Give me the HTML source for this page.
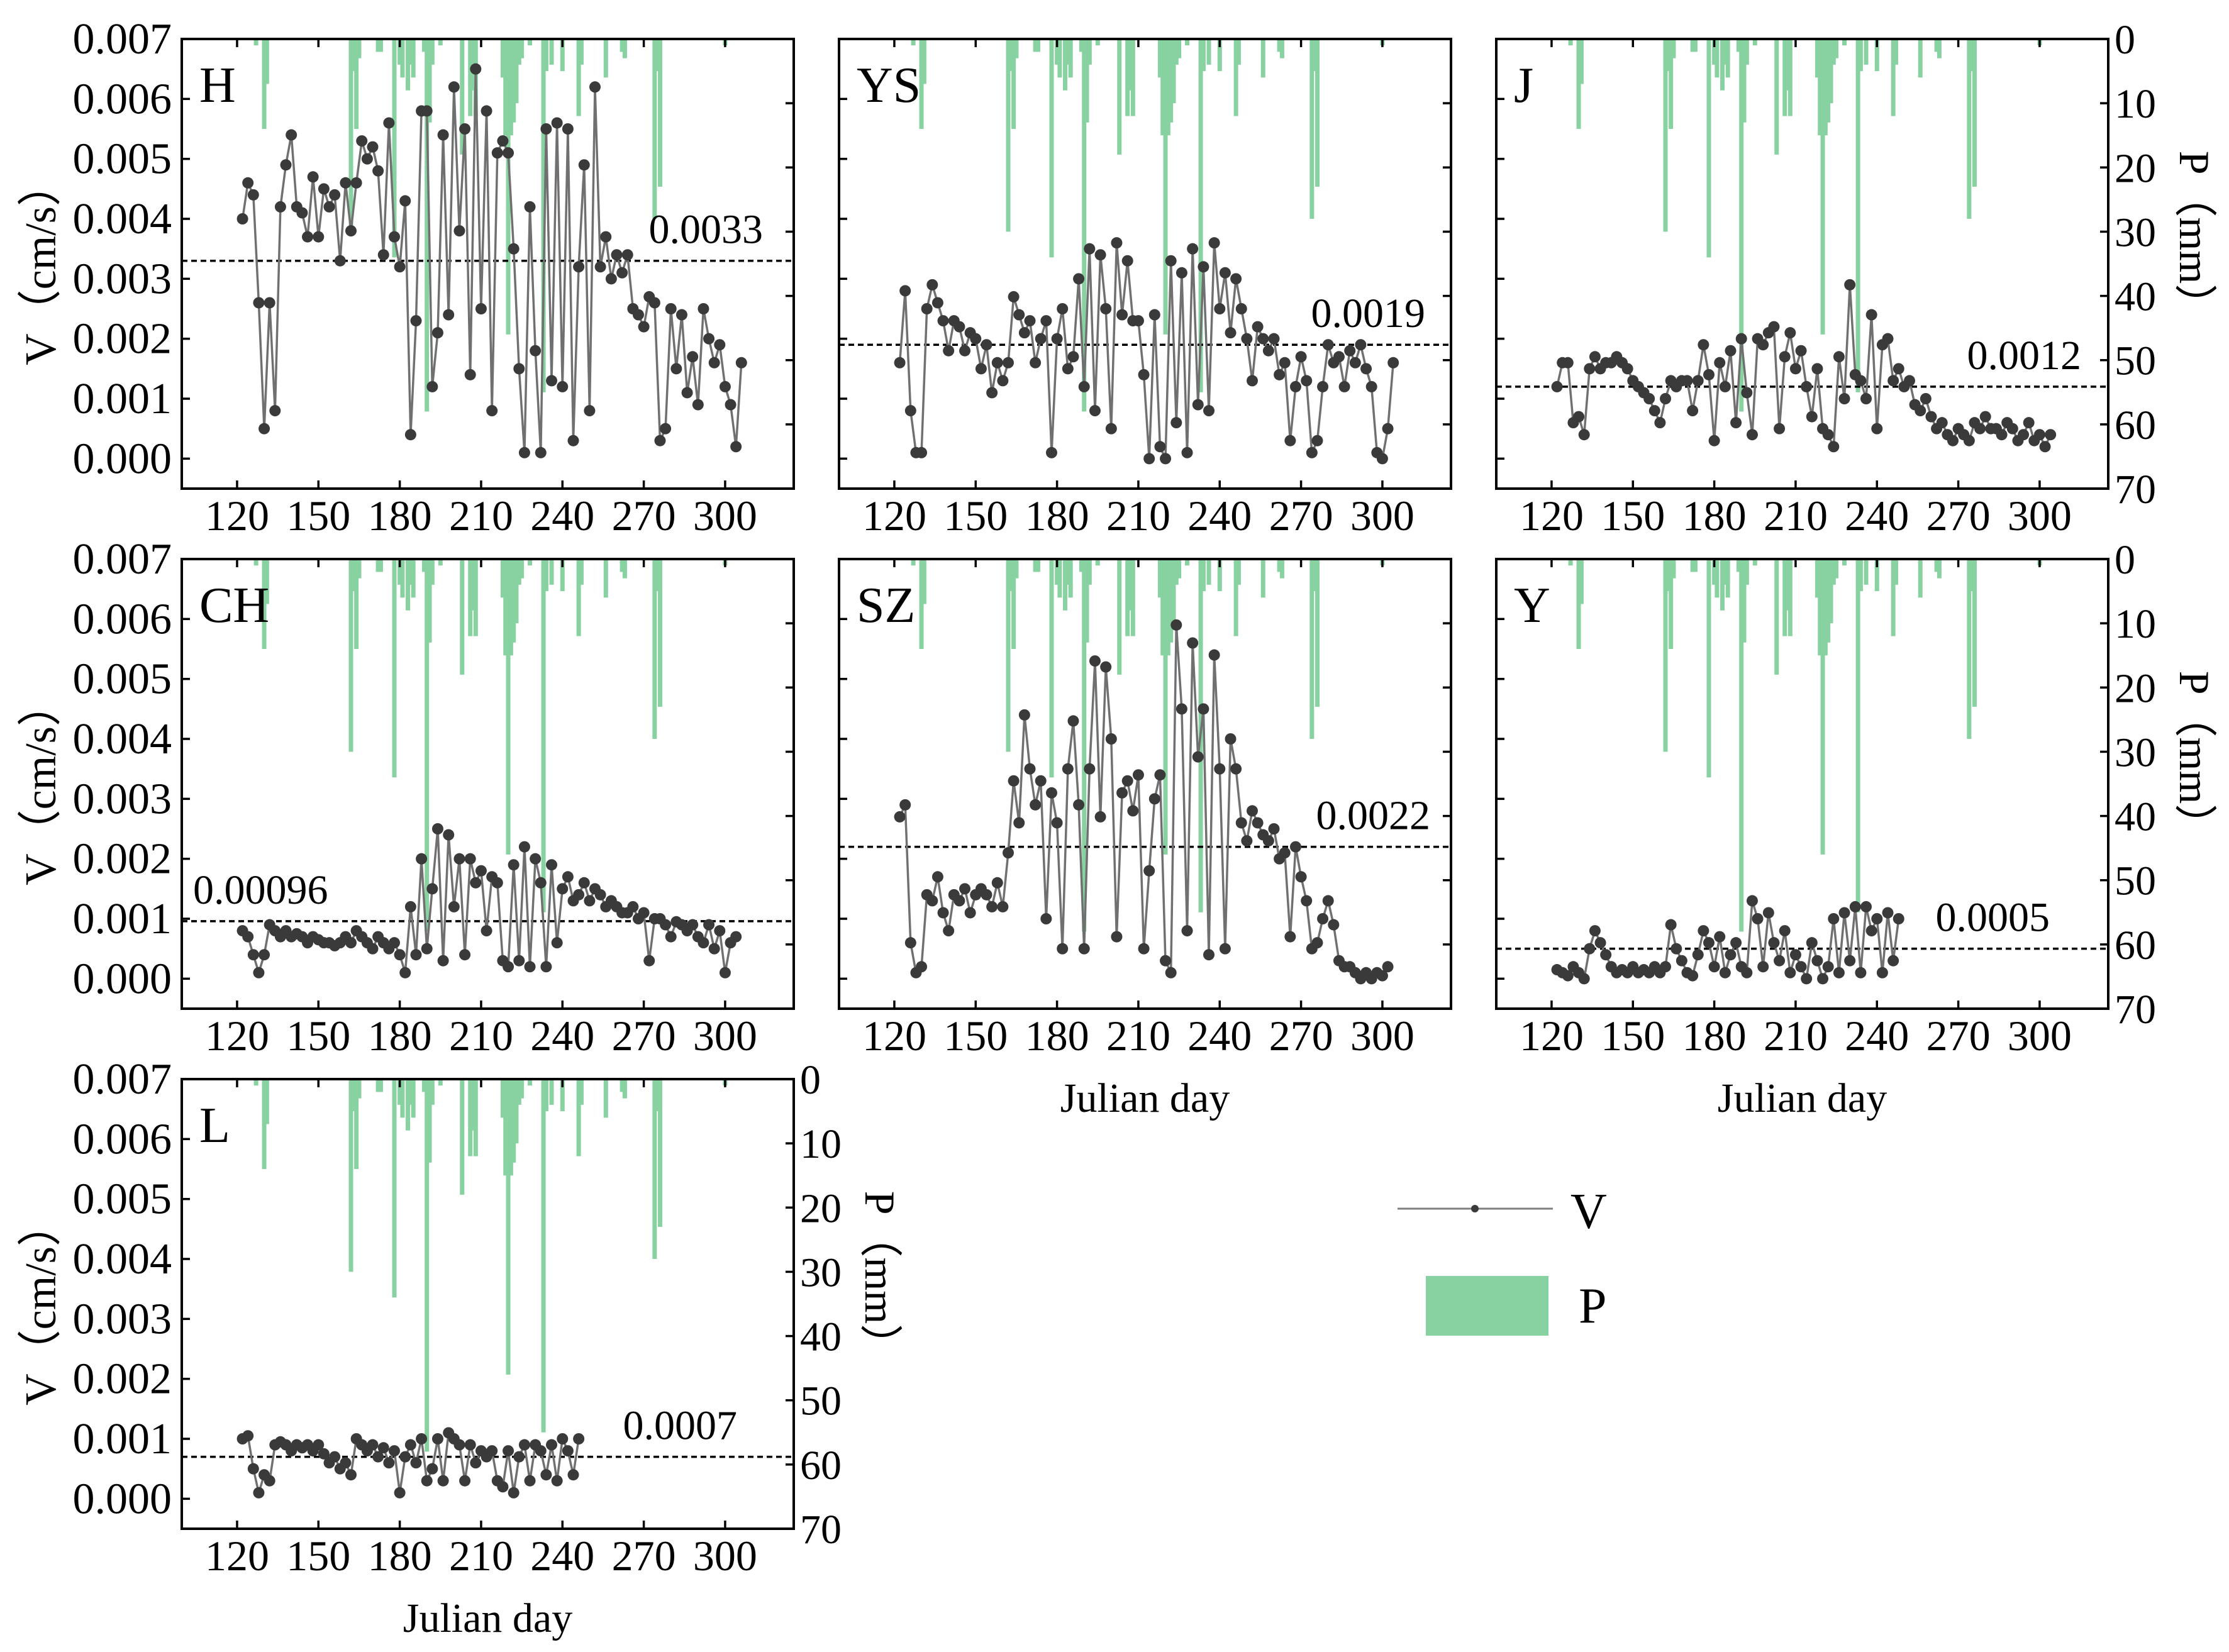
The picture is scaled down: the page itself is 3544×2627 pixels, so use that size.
<!DOCTYPE html>
<html><head><meta charset="utf-8">
<style>
html,body{margin:0;padding:0;background:#fff;}
svg{display:block;font-family:"Liberation Serif",serif;}
</style></head>
<body>
<svg id="chart" width="3544" height="2627" viewBox="0 0 3544 2627" xmlns="http://www.w3.org/2000/svg"></svg>
<script>
// ---- data ----
const panelNames = ["H","YS","J","CH","SZ","Y","L"];
const meanValues = [0.0033,0.0019,0.0012,0.00096,0.0022,0.0005,0.0007];
const meanLabels = ["0.0033","0.0019","0.0012","0.00096","0.0022","0.0005","0.0007"];
const startDay = 122;
const dayStep = 2;
// velocities in units of 0.001 cm/s
const vH = [4.0,4.6,4.4,2.6,0.5,2.6,0.8,4.2,4.9,5.4,4.2,4.1,3.7,4.7,3.7,4.5,4.2,4.4,3.3,4.6,3.8,4.6,5.3,5.0,5.2,4.8,3.4,5.6,3.7,3.2,4.3,0.4,2.3,5.8,5.8,1.2,2.1,5.4,2.4,6.2,3.8,5.5,1.4,6.5,2.5,5.8,0.8,5.1,5.3,5.1,3.5,1.5,0.1,4.2,1.8,0.1,5.5,1.3,5.6,1.2,5.5,0.3,3.2,4.9,0.8,6.2,3.2,3.7,3.0,3.4,3.1,3.4,2.5,2.4,2.2,2.7,2.6,0.3,0.5,2.5,1.5,2.4,1.1,1.7,0.9,2.5,2.0,1.6,1.9,1.2,0.9,0.2,1.6];
const vYS = [1.6,2.8,0.8,0.1,0.1,2.5,2.9,2.6,2.3,1.8,2.3,2.2,1.8,2.1,2.0,1.5,1.9,1.1,1.6,1.3,1.6,2.7,2.4,2.1,2.3,1.6,2.0,2.3,0.1,2.0,2.5,1.5,1.7,3.0,1.2,3.5,0.8,3.4,2.5,0.5,3.6,2.4,3.3,2.3,2.3,1.4,0.0,2.4,0.2,0.0,3.3,0.6,3.1,0.1,3.5,0.9,3.2,0.8,3.6,2.5,3.1,2.1,3.0,2.5,2.0,1.3,2.2,2.0,1.8,2.0,1.4,1.6,0.3,1.2,1.7,1.3,0.1,0.3,1.2,1.9,1.6,1.7,1.2,1.8,1.6,1.9,1.5,1.2,0.1,0.0,0.5,1.6];
const vJ = [1.2,1.6,1.6,0.6,0.7,0.4,1.5,1.7,1.5,1.6,1.6,1.7,1.6,1.5,1.3,1.2,1.1,1.0,0.8,0.6,1.0,1.3,1.2,1.3,1.3,0.8,1.3,1.9,1.4,0.3,1.6,1.2,1.8,0.6,2.0,1.1,0.4,2.0,1.9,2.1,2.2,0.5,1.7,2.1,1.5,1.8,1.2,0.7,1.5,0.5,0.4,0.2,1.7,1.0,2.9,1.4,1.3,1.0,2.4,0.5,1.9,2.0,1.3,1.5,1.2,1.3,0.9,0.8,1.0,0.7,0.5,0.6,0.4,0.3,0.5,0.4,0.3,0.6,0.5,0.7,0.5,0.5,0.4,0.6,0.5,0.3,0.4,0.6,0.3,0.4,0.2,0.4];
const vCH = [0.8,0.7,0.4,0.1,0.4,0.9,0.8,0.7,0.8,0.7,0.75,0.7,0.6,0.7,0.65,0.6,0.6,0.55,0.6,0.7,0.6,0.8,0.7,0.6,0.5,0.7,0.6,0.5,0.6,0.4,0.1,1.2,0.4,2.0,0.5,1.5,2.5,0.3,2.4,1.2,2.0,0.4,2.0,1.6,1.8,0.8,1.7,1.6,0.3,0.2,1.9,0.3,2.2,0.2,2.0,1.6,0.2,1.9,0.6,1.5,1.7,1.3,1.4,1.6,1.3,1.5,1.4,1.2,1.3,1.2,1.1,1.1,1.2,1.0,1.1,0.3,1.0,1.0,0.9,0.7,0.95,0.9,0.8,0.9,0.7,0.6,0.9,0.5,0.8,0.1,0.6,0.7];
const vSZ = [2.7,2.9,0.6,0.1,0.2,1.4,1.3,1.7,1.1,0.8,1.4,1.3,1.5,1.1,1.4,1.5,1.4,1.2,1.6,1.2,2.1,3.3,2.6,4.4,3.5,2.9,3.3,1.0,3.1,2.6,0.5,3.5,4.3,2.9,0.5,3.5,5.3,2.7,5.2,4.0,0.7,3.1,3.3,2.8,3.4,0.5,1.8,3.0,3.4,0.3,0.1,5.9,4.5,0.8,5.6,3.7,4.5,0.4,5.4,3.5,0.5,4.0,3.5,2.6,2.3,2.8,2.6,2.4,2.3,2.5,2.0,2.1,0.7,2.2,1.7,1.3,0.5,0.6,1.0,1.3,0.9,0.3,0.2,0.2,0.1,0.0,0.1,0.0,0.1,0.05,0.2];
const vY = [0.15,0.1,0.05,0.2,0.1,0.0,0.5,0.8,0.6,0.4,0.2,0.1,0.15,0.1,0.2,0.1,0.15,0.1,0.2,0.1,0.2,0.9,0.5,0.3,0.1,0.05,0.4,0.8,0.6,0.2,0.7,0.1,0.4,0.6,0.2,0.1,1.3,1.0,0.2,1.1,0.6,0.3,0.8,0.1,0.4,0.2,0.0,0.6,0.3,0.0,0.2,1.0,0.1,1.1,0.3,1.2,0.1,1.2,0.8,1.0,0.1,1.1,0.3,1.0];
const vL = [1.0,1.05,0.5,0.1,0.4,0.3,0.9,0.95,0.9,0.8,0.9,0.85,0.9,0.8,0.9,0.75,0.6,0.7,0.5,0.6,0.4,1.0,0.9,0.8,0.9,0.7,0.85,0.6,0.8,0.1,0.7,0.9,0.6,1.0,0.3,0.5,1.0,0.3,1.1,1.0,0.9,0.3,0.9,0.6,0.8,0.7,0.8,0.3,0.2,0.8,0.1,0.7,0.9,0.3,0.9,0.8,0.4,0.9,0.3,1.0,0.8,0.4,1.0];
const pDays = [127,130,131,162,163,164,165,172,173,178,180,181,183,184,185,189,190,191,192,195,203,206,207,208,218,219,220,221,222,223,224,225,228,233,234,236,240,246,247,256,262,263,274,275,276,300];
const pVals = [1,14,7,30,5,14,3,2,2,34,4,6,8,4,6,2,58,13,4,1,18,12,8,12,6,15,46,15,13,10,4,3,1,55,5,4,5,12,4,6,2,3,28,5,23,1];
const xTicks = [120,150,180,210,240,270,300];
const vTicks = ["0.000","0.001","0.002","0.003","0.004","0.005","0.006","0.007"];
const pTicks = [0,10,20,30,40,50,60,70];

const series = [vH,vYS,vJ,vCH,vSZ,vY,vL];
// ---- layout ----
const NS = "http://www.w3.org/2000/svg";
const svg = document.getElementById('chart');
const colX = [289,1334,2379], rowY = [62,889,1716];
const PW = 973, PH = 715;
const xMin = 99.6, xMax = 325.3, vMin = -0.5, vMax = 7, pMax = 70;
function el(tag, attrs, parent){const e=document.createElementNS(NS,tag);for(const k in attrs)e.setAttribute(k,attrs[k]);(parent||svg).appendChild(e);return e;}
const labelRight = [49,41,43,null,33,93,90];

panelNames.forEach((name,i)=>{
  const col = i<3 ? i : (i<6 ? i-3 : 0);
  const row = i<3 ? 0 : (i<6 ? 1 : 2);
  const X0 = colX[col], Y0 = rowY[row];
  const sx = d => X0 + (d-xMin)/(xMax-xMin)*PW;
  const sv = v => Y0 + PH - (v-vMin)/(vMax-vMin)*PH;
  const sp = p => Y0 + p/pMax*PH;
  const g = el('g',{});
  
  
  const clipId='clip'+i;
  const cp=el('clipPath',{id:clipId},g); el('rect',{x:X0,y:Y0,width:PW,height:PH},cp);
  const pg = el('g',{'clip-path':'url(#'+clipId+')'},g);
  
  
  pDays.forEach((d,k)=>{
    const b = el('rect',{x:sx(d)-3.5,y:Y0,width:7,height:sp(pVals[k])-Y0,fill:'#88d1a0'},pg);
    
    
  });
  const ml = el('line',{x1:X0,x2:X0+PW,y1:sv(meanValues[i]*1000),y2:sv(meanValues[i]*1000),stroke:'#000','stroke-width':3.5,'stroke-dasharray':'9 6'},g);
  
  
  const vals = series[i];
  const pts = vals.map((v,k)=>sx(startDay+dayStep*k).toFixed(1)+','+sv(v).toFixed(1)).join(' ');
  const pl = el('polyline',{points:pts,fill:'none',stroke:'#707070','stroke-width':3.5},g);
  
  
  vals.forEach((v,k)=>{
    const c = el('circle',{cx:sx(startDay+dayStep*k),cy:sv(v),r:9,fill:'#3a3a3a'},g);
    
    
  });
  const fr = el('rect',{x:X0,y:Y0,width:PW,height:PH,fill:'none',stroke:'#000','stroke-width':4},g);
  
  
  xTicks.forEach(t=>{
    el('line',{x1:sx(t),x2:sx(t),y1:Y0+PH,y2:Y0+PH-13,stroke:'#000','stroke-width':3.5},g);
    el('line',{x1:sx(t),x2:sx(t),y1:Y0,y2:Y0+13,stroke:'#000','stroke-width':3.5},g);
    const tl = el('text',{x:sx(t),y:Y0+PH+66,'font-size':68,'text-anchor':'middle'},g);
    tl.textContent = t;
    
    
  });
  vTicks.forEach((t,k)=>{
    el('line',{x1:X0,x2:X0+13,y1:sv(k),y2:sv(k),stroke:'#000','stroke-width':3.5},g);
    if(col===0){
      const tl = el('text',{x:X0-16,y:sv(k)+23,'font-size':70,'text-anchor':'end'},g);
      tl.textContent = t;
      
      
    }
  });
  pTicks.forEach(t=>{
    el('line',{x1:X0+PW,x2:X0+PW-13,y1:sp(t),y2:sp(t),stroke:'#000','stroke-width':3.5},g);
    if(col===2 || i===6){
      const tl = el('text',{x:X0+PW+10,y:sp(t)+23,'font-size':66,'text-anchor':'start'},g);
      tl.textContent = t;
      
      
    }
  });
  const pn = el('text',{x:X0+28,y:Y0+100,'font-size':80},g);
  pn.textContent = name;
  
  
  let ml2;
  if(labelRight[i]===null){
    ml2 = el('text',{x:X0+18,y:sv(meanValues[i]*1000)-28,'font-size':66,'text-anchor':'start'},g);
  } else {
    ml2 = el('text',{x:X0+PW-labelRight[i],y:sv(meanValues[i]*1000)-28,'font-size':66,'text-anchor':'end'},g);
  }
  ml2.textContent = meanLabels[i];
  
  
  if(col===0){
    const cy = Y0+PH/2;
    const yt = el('text',{x:0,y:0,'font-size':70,'text-anchor':'middle',transform:`translate(88,${cy}) rotate(-90)`},g);
    yt.textContent = 'V（cm/s）';
    
    
  }
  if(col===2 || i===6){
    const cy = Y0+PH/2 - 40;
    const tx = X0+PW+114;
    const pt = el('text',{x:0,y:0,'font-size':68,'text-anchor':'middle',transform:`translate(${tx},${cy}) rotate(90)`},g);
    pt.textContent = 'P（mm）';
    
    
  }
  if(row===2 || (row===1 && col>0)){
    const xt = el('text',{x:X0+PW/2,y:Y0+PH+164,'font-size':66,'text-anchor':'middle'},g);
    xt.textContent = 'Julian day';
    
    
  }
});

const lg = el('g',{});


el('line',{x1:2222,x2:2469,y1:1922,y2:1922,stroke:'#7f7f7f','stroke-width':3},lg);
el('circle',{cx:2345,cy:1922,r:6,fill:'#3a3a3a'},lg);
const lv = el('text',{x:2497,y:1953,'font-size':80},lg);
lv.textContent='V';


el('rect',{x:2267,y:2029,width:195,height:95,fill:'#88d1a0'},lg);
const lp = el('text',{x:2510,y:2103,'font-size':80},lg);
lp.textContent='P';


</script>
</body></html>
